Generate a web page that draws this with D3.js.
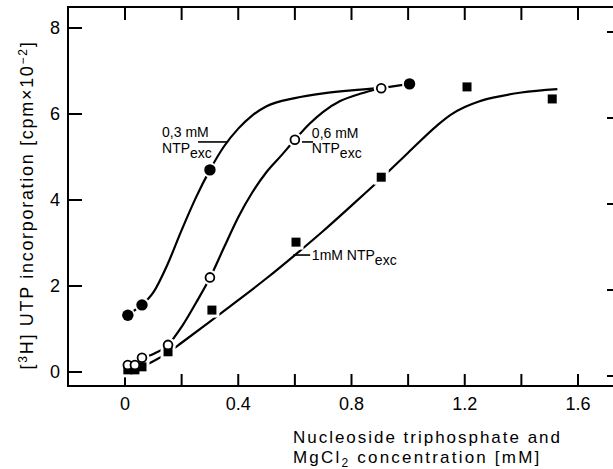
<!DOCTYPE html>
<html>
<head>
<meta charset="utf-8">
<script src="https://cdn.jsdelivr.net/npm/d3@7"></script>
<style>
  body { margin: 0; background: #fff; }
  svg { display: block; }
  text { font-family: "Liberation Sans", Arial, sans-serif; fill: #000; }
</style>
</head>
<body>
<div id="wrapper"></div>
<script>
// measured points, 0.3 mM NTP_exc (filled circles)
const x03 = [0.01, 0.06, 0.30, 1.005];
const y03 = [1.32, 1.56, 4.70, 6.70];
// 0.6 mM NTP_exc (open circles)
const x06 = [0.01, 0.035, 0.06, 0.152, 0.30, 0.60, 0.905];
const y06 = [0.16, 0.16, 0.33, 0.63, 2.20, 5.40, 6.60];
// 1 mM NTP_exc (filled squares)
const x1 = [0.01, 0.035, 0.06, 0.152, 0.307, 0.604, 0.905, 1.208, 1.509];
const y1 = [0.05, 0.05, 0.12, 0.47, 1.44, 3.02, 4.53, 6.63, 6.35];

// hand-drawn fit curves
const fit03x = [0.06, 0.10, 0.15, 0.20, 0.25, 0.30, 0.35, 0.40, 0.45, 0.50, 0.60, 0.70, 0.80, 0.905];
const fit03y = [1.56, 1.85, 2.50, 3.30, 4.05, 4.70, 5.25, 5.66, 5.97, 6.18, 6.37, 6.48, 6.55, 6.60];
const fit06x = [0.06, 0.10, 0.152, 0.20, 0.25, 0.30, 0.35, 0.40, 0.45, 0.50, 0.55, 0.60, 0.65, 0.70, 0.76, 0.83, 0.905];
const fit06y = [0.33, 0.42, 0.63, 1.05, 1.60, 2.19, 2.90, 3.60, 4.18, 4.65, 5.02, 5.40, 5.76, 6.05, 6.30, 6.47, 6.60];
const fit1x = [0.01, 0.06, 0.10, 0.152, 0.20, 0.30, 0.40, 0.50, 0.60, 0.70, 0.80, 0.90, 1.00, 1.10, 1.15, 1.20, 1.25, 1.30, 1.40, 1.527];
const fit1y = [0.05, 0.13, 0.25, 0.45, 0.68, 1.17, 1.67, 2.18, 2.72, 3.28, 3.87, 4.47, 5.10, 5.72, 5.98, 6.16, 6.29, 6.38, 6.50, 6.58];

const xTicks = [0, 0.2, 0.4, 0.6, 0.8, 1.0, 1.2, 1.4, 1.6];
const xTickLabels = ["0", "", "0.4", "", "0.8", "", "1.2", "", "1.6"];
const yTicks = [0, 2, 4, 6, 8];

const zip = (xs, ys) => xs.map((x, i) => ({ x: x, y: ys[i] }));

function drawChart() {
  const dimensions = {
    width: 613,
    height: 469,
    left: 68,
    right: 620,
    top: 7,
    bottom: 386,
  };

  const xScale = d3.scaleLinear().domain([0, 1.6]).range([125, 578]);
  const yScale = d3.scaleLinear().domain([0, 8]).range([372, 28]);

  const svg = d3
    .select("#wrapper")
    .append("svg")
    .attr("width", dimensions.width)
    .attr("height", dimensions.height);

  // frame
  svg.append("path")
    .attr("d", `M${dimensions.right},${dimensions.top}H${dimensions.left}V${dimensions.bottom}H${dimensions.right}`)
    .attr("fill", "none")
    .attr("stroke", "#000")
    .attr("stroke-width", 2);

  // x ticks (inward, bottom and top)
  const tickLen = 12;
  svg.append("g").selectAll("line.xb").data(xTicks).join("line")
    .attr("x1", d => xScale(d)).attr("x2", d => xScale(d))
    .attr("y1", dimensions.bottom).attr("y2", dimensions.bottom - tickLen)
    .attr("stroke", "#000").attr("stroke-width", 2);
  svg.append("g").selectAll("line.xt").data(xTicks).join("line")
    .attr("x1", d => xScale(d)).attr("x2", d => xScale(d))
    .attr("y1", dimensions.top).attr("y2", dimensions.top + tickLen + 1)
    .attr("stroke", "#000").attr("stroke-width", 2);
  svg.append("g").selectAll("text").data(xTicks).join("text")
    .attr("x", d => xScale(d))
    .attr("y", dimensions.bottom + 24)
    .attr("text-anchor", "middle")
    .style("font-size", "18px")
    .text((d, i) => xTickLabels[i]);

  // y ticks (inward, left and right)
  svg.append("g").selectAll("line.yl").data(yTicks).join("line")
    .attr("x1", dimensions.left).attr("x2", dimensions.left + 14)
    .attr("y1", d => yScale(d)).attr("y2", d => yScale(d))
    .attr("stroke", "#000").attr("stroke-width", 2);
  svg.append("g").selectAll("line.yr").data(yTicks).join("line")
    .attr("x1", dimensions.right - 13).attr("x2", dimensions.right)
    .attr("y1", d => yScale(d) + 4).attr("y2", d => yScale(d) + 4)
    .attr("stroke", "#000").attr("stroke-width", 2);
  svg.append("g").selectAll("text").data(yTicks).join("text")
    .attr("x", dimensions.left - 8)
    .attr("y", d => yScale(d) + 6)
    .attr("text-anchor", "end")
    .style("font-size", "18px")
    .text(d => d);

  // fit curves
  const line = d3.line()
    .x(d => xScale(d.x))
    .y(d => yScale(d.y))
    .curve(d3.curveMonotoneX);
  const curves = [
    zip(fit03x, fit03y),
    zip(fit06x, fit06y),
    zip(fit1x, fit1y),
    zip(x03.slice(0, 2), y03.slice(0, 2)),
    [{ x: x06[6], y: y06[6] }, { x: x03[3], y: y03[3] }],
  ];
  svg.append("g").selectAll("path").data(curves).join("path")
    .attr("d", line)
    .attr("fill", "none")
    .attr("stroke", "#000")
    .attr("stroke-width", 2.2);

  // label leader lines
  const leaders = [
    [0.258, 5.35, 0.364, 5.35],
    [0.625, 5.35, 0.664, 5.35],
    [0.594, 2.72, 0.654, 2.72],
  ];
  svg.append("g").selectAll("line").data(leaders).join("line")
    .attr("x1", d => xScale(d[0])).attr("y1", d => yScale(d[1]))
    .attr("x2", d => xScale(d[2])).attr("y2", d => yScale(d[3]))
    .attr("stroke", "#000").attr("stroke-width", 1.6);

  // white halos so lines stop short of markers
  const sq = zip(x1, y1), oc = zip(x06, y06), fc = zip(x03, y03);
  const halo = svg.append("g");
  halo.selectAll("rect").data(sq).join("rect")
    .attr("x", d => xScale(d.x) - 7.5).attr("y", d => yScale(d.y) - 7.5)
    .attr("width", 15).attr("height", 15).attr("fill", "#fff");
  halo.selectAll("circle").data(oc.concat(fc)).join("circle")
    .attr("cx", d => xScale(d.x)).attr("cy", d => yScale(d.y))
    .attr("r", 7.5).attr("fill", "#fff");

  // markers
  svg.append("g").selectAll("rect").data(sq).join("rect")
    .attr("x", d => xScale(d.x) - 4.5).attr("y", d => yScale(d.y) - 4.5)
    .attr("width", 9).attr("height", 9).attr("fill", "#000");
  svg.append("g").selectAll("circle").data(oc).join("circle")
    .attr("cx", d => xScale(d.x)).attr("cy", d => yScale(d.y))
    .attr("r", 4.4).attr("fill", "#fff").attr("stroke", "#000").attr("stroke-width", 1.8);
  svg.append("g").selectAll("circle").data(fc).join("circle")
    .attr("cx", d => xScale(d.x)).attr("cy", d => yScale(d.y))
    .attr("r", 5.7).attr("fill", "#000");

  // curve labels
  const ntp = (g, x, y) => {
    const t = g.append("text").attr("x", x).attr("y", y).style("font-size", "14px");
    t.append("tspan").text("NTP");
    t.append("tspan").attr("dy", 5).text("exc");
  };
  const lab = svg.append("g");
  lab.append("text").attr("x", xScale(0.131)).attr("y", 137).style("font-size", "14px").text("0,3 mM");
  ntp(lab, xScale(0.131), 153);
  lab.append("text").attr("x", xScale(0.66)).attr("y", 138).style("font-size", "14px").text("0,6 mM");
  ntp(lab, xScale(0.66), 153);
  const t1 = lab.append("text").attr("x", xScale(0.66)).attr("y", 260).style("font-size", "14px");
  t1.append("tspan").text("1mM NTP");
  t1.append("tspan").attr("dy", 5).text("exc");

  // axis titles
  svg.append("text")
    .attr("x", 293).attr("y", 443)
    .attr("textLength", 267).attr("lengthAdjust", "spacing")
    .style("font-size", "17px")
    .text("Nucleoside triphosphate and");
  const xl2 = svg.append("text")
    .attr("x", 293).attr("y", 463)
    .style("font-size", "17px")
    .style("letter-spacing", "2.2px");
  xl2.append("tspan").text("MgCl");
  xl2.append("tspan").attr("dy", 4).style("font-size", "12px").text("2");
  xl2.append("tspan").attr("dy", -4).text(" concentration [mM]");

  const yl = svg.append("text")
    .attr("transform", "translate(33,205) rotate(-90)")
    .attr("text-anchor", "middle")
    .style("font-size", "18px")
    .style("letter-spacing", "1.7px");
  yl.append("tspan").text("[");
  yl.append("tspan").attr("dy", -6).style("font-size", "12px").text("3");
  yl.append("tspan").attr("dy", 6).text("H] UTP incorporation [cpm×10");
  yl.append("tspan").attr("dy", -6).style("font-size", "12px").text("−2");
  yl.append("tspan").attr("dy", 6).text("]");
}

drawChart();
</script>
</body>
</html>
